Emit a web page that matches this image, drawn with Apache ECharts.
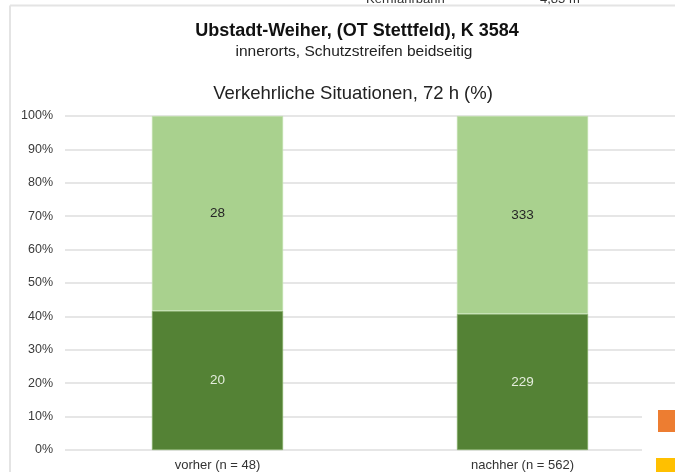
<!DOCTYPE html>
<html>
<head>
<meta charset="utf-8">
<script src="https://cdn.jsdelivr.net/npm/echarts@6/dist/echarts.min.js"></script>
<style>
html,body{margin:0;padding:0;background:#fff;}
#c{width:675px;height:472px;}
</style>
</head>
<body>
<div id="c"></div>
<script>
// ---- data ----
const categories = ['vorher (n = 48)', 'nachher (n = 562)'];
const darkCounts = [20, 229];   // lower (dark green) segment
const lightCounts = [28, 333];  // upper (light green) segment
const yTicks = [0, 10, 20, 30, 40, 50, 60, 70, 80, 90, 100];

const totals = darkCounts.map((v, i) => v + lightCounts[i]);
const darkPct = darkCounts.map((v, i) => ({ value: v / totals[i] * 100, count: v }));
const lightPct = lightCounts.map((v, i) => ({ value: v / totals[i] * 100, count: v }));

const FONT = '"Liberation Sans", Arial, sans-serif';
const chart = echarts.init(document.getElementById('c'), null, { renderer: 'canvas' });

chart.setOption({
  backgroundColor: '#ffffff',
  animation: false,
  textStyle: { fontFamily: FONT },
  title: [
    { text: 'Ubstadt-Weiher, (OT Stettfeld), K 3584', left: 352, top: 17, textAlign: 'center',
      textStyle: { fontFamily: FONT, fontSize: 18, fontWeight: 'bold', color: '#111' } },
    { text: 'innerorts, Schutzstreifen beidseitig', left: 349, top: 39, textAlign: 'center',
      textStyle: { fontFamily: FONT, fontSize: 15.5, fontWeight: 'normal', color: '#222' } },
    { text: 'Verkehrliche Situationen, 72 h (%)', left: 348, top: 79, textAlign: 'center',
      textStyle: { fontFamily: FONT, fontSize: 18.5, fontWeight: 'normal', color: '#222' } }
  ],
  grid: { left: 65, right: 0, top: 116, bottom: 22 },
  xAxis: {
    type: 'category',
    data: categories,
    axisLine: { show: false },
    axisTick: { show: false },
    axisLabel: { fontFamily: FONT, fontSize: 13, color: '#333', margin: 9 }
  },
  yAxis: {
    type: 'value',
    min: 0, max: 100, interval: 10,
    axisLabel: {
      fontFamily: FONT, fontSize: 12.5, color: '#3a3a3a', margin: 12,
      formatter: v => (yTicks.includes(v) ? v + '%' : '')
    },
    axisLine: { show: false },
    axisTick: { show: false },
    splitLine: { lineStyle: { color: '#dedede', width: 1.5 } }
  },
  series: [
    {
      name: 'dunkel', type: 'bar', stack: 'a', barWidth: '43%',
      data: darkPct,
      itemStyle: { color: '#548235', borderColor: '#8fb872', borderWidth: 0.6 },
      label: { show: true, position: 'inside', formatter: p => p.data.count,
        fontFamily: FONT, fontSize: 13.5, color: '#e4eddc' }
    },
    {
      name: 'hell', type: 'bar', stack: 'a', barWidth: '43%',
      data: lightPct,
      itemStyle: { color: '#a9d18e', borderColor: '#c6e2b3', borderWidth: 0.6 },
      label: { show: true, position: 'inside', formatter: p => p.data.count,
        fontFamily: FONT, fontSize: 13.5, color: '#262626' }
    }
  ],
  graphic: [
    { type: 'line', shape: { x1: 10, y1: 5.5, x2: 675, y2: 5.5 }, style: { stroke: '#e4e4e4', lineWidth: 2 }, z: 10 },
    { type: 'line', shape: { x1: 10, y1: 5.5, x2: 10, y2: 472 }, style: { stroke: '#e4e4e4', lineWidth: 2 }, z: 10 },
    { type: 'text', left: 366, top: -7, style: { text: 'Kernfahrbahn', font: '13px ' + FONT, fill: '#333' }, z: 5 },
    { type: 'text', left: 540, top: -7, style: { text: '4,85 m', font: '13px ' + FONT, fill: '#333' }, z: 5 },
    { type: 'rect', shape: { x: 642, y: 398, width: 40, height: 80 }, style: { fill: '#ffffff' }, z: 20 },
    { type: 'rect', shape: { x: 658, y: 410, width: 20, height: 22 }, style: { fill: '#ed7d31' }, z: 21 },
    { type: 'rect', shape: { x: 656, y: 458, width: 22, height: 20 }, style: { fill: '#ffc000' }, z: 21 }
  ]
});
</script>
</body>
</html>
